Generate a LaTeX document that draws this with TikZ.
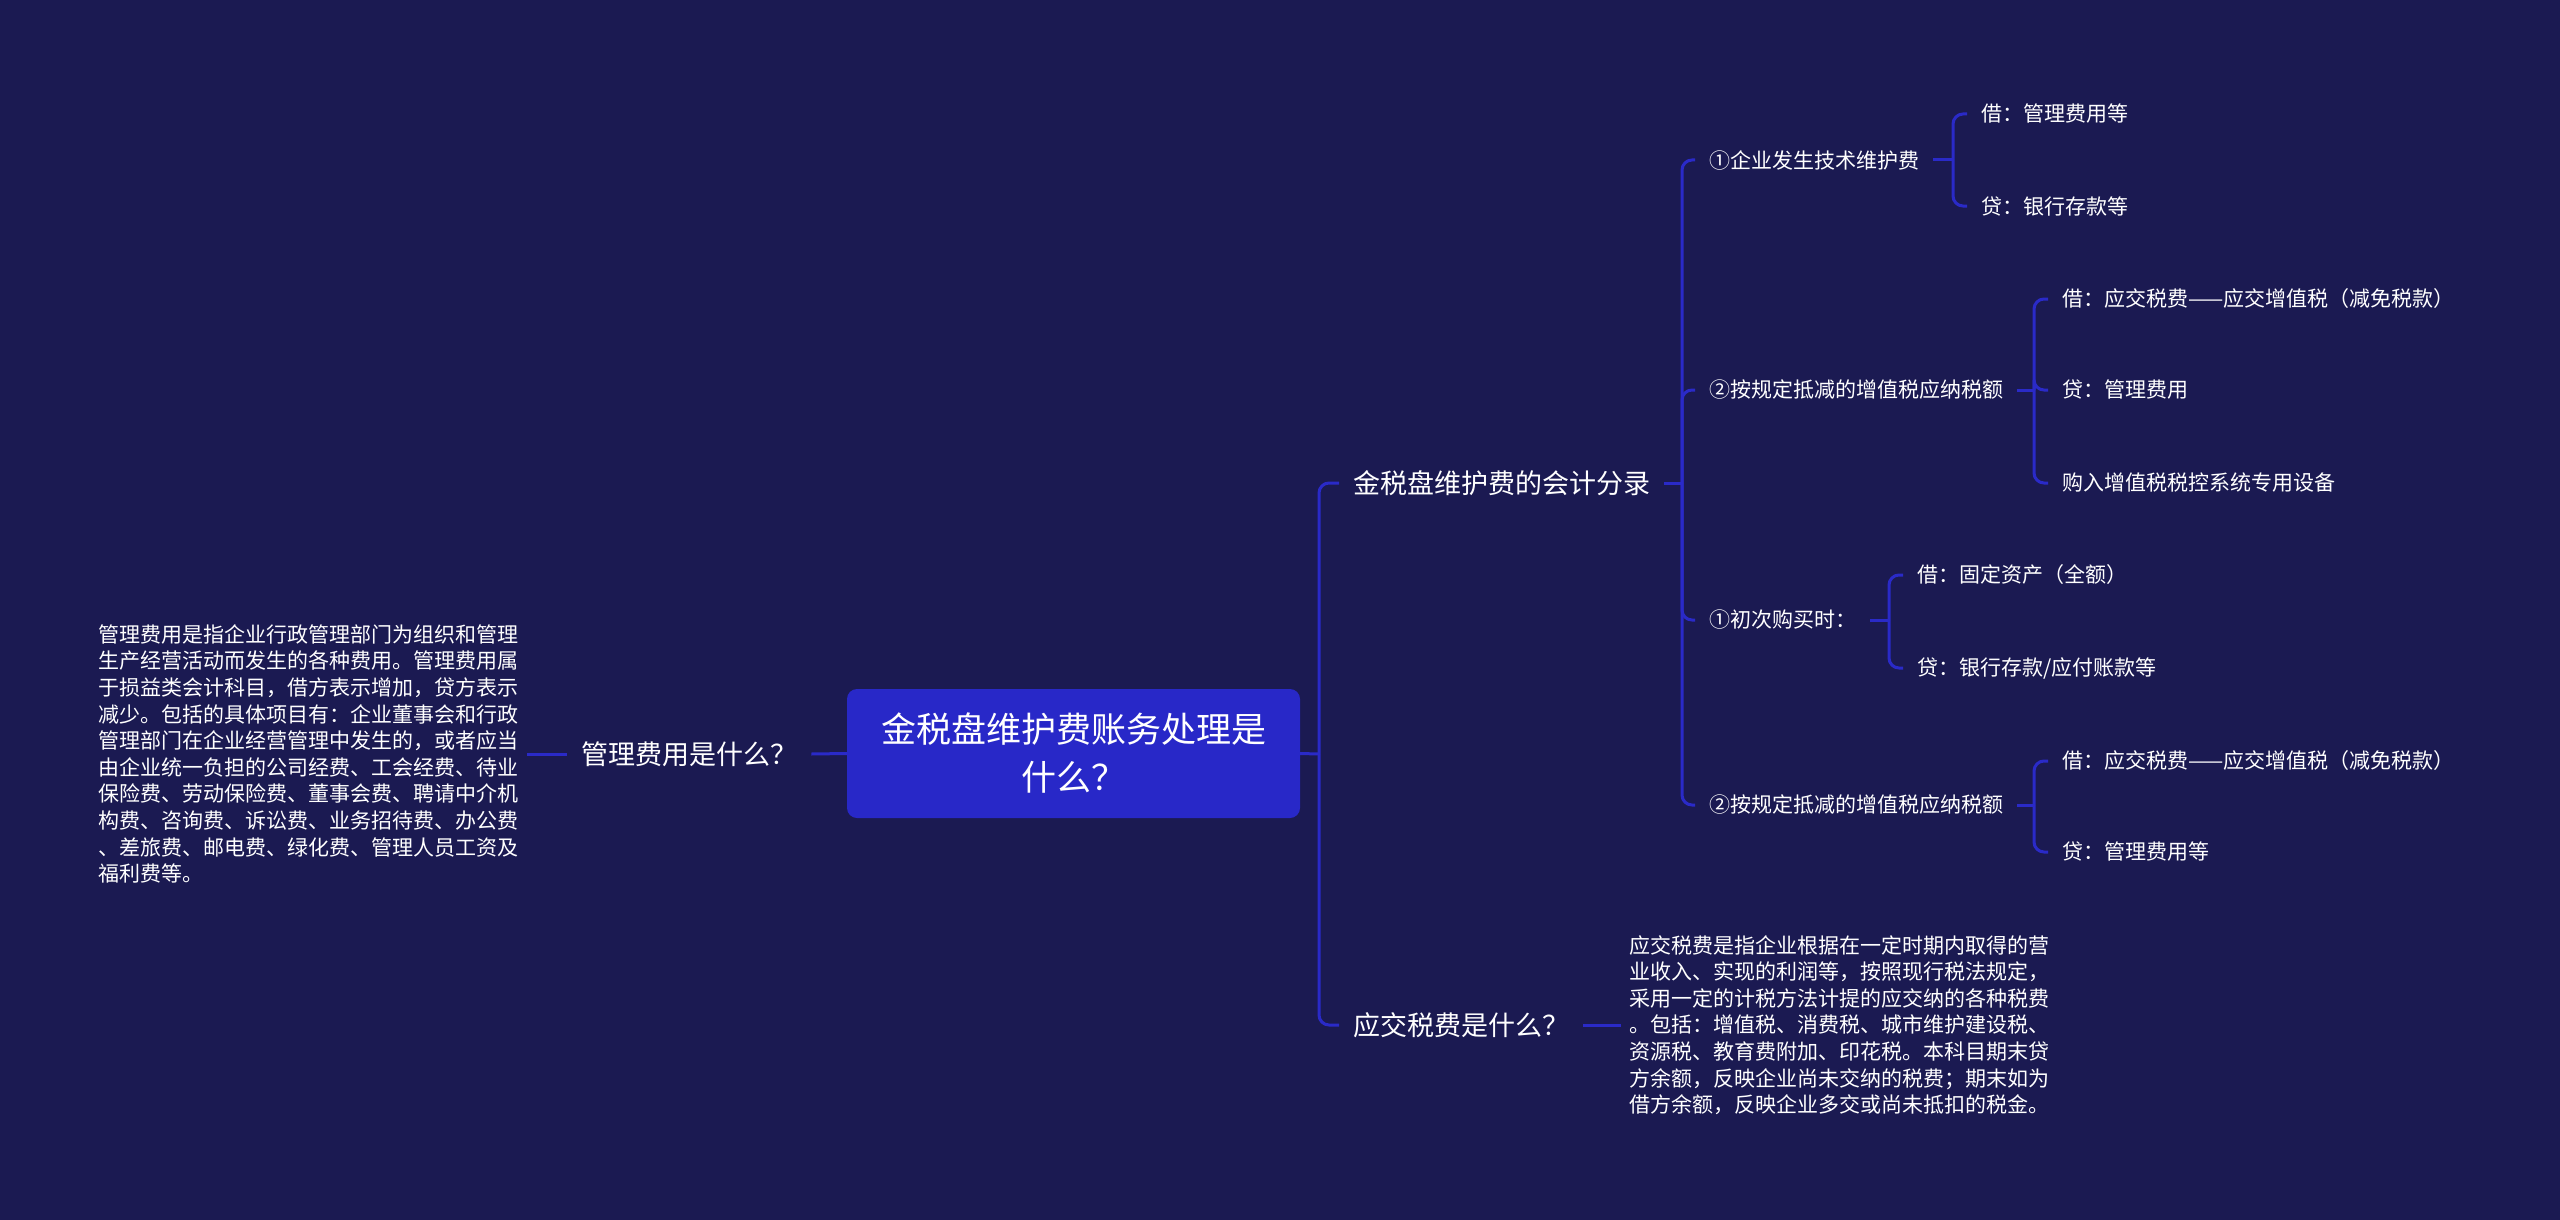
\documentclass[tikz,border=0pt]{standalone}
\usepackage{fontspec}
\setmainfont{Noto Sans CJK SC}

\definecolor{bgnavy}{RGB}{27,26,82}
\definecolor{linkblue}{RGB}{42,42,200}
\definecolor{rootblue}{RGB}{40,40,200}

\tikzset{
  link/.style={draw=linkblue, line width=3pt, rounded corners=10pt},
  rootbox/.style={fill=rootblue, rounded corners=10pt, text=white, align=center,
    minimum width=453pt, minimum height=129pt, font=\fontsize{35}{48}\selectfont},
  topic/.style={text=white, inner xsep=14pt, inner ysep=3pt, anchor=west,
    font=\fontsize{27}{32}\selectfont},
  leaf/.style={text=white, inner xsep=14pt, inner ysep=3pt, anchor=west,
    font=\fontsize{21}{25}\selectfont},
  desc/.style={text=white, inner xsep=8pt, align=left,
    font=\fontsize{21}{26.6}\selectfont}
}

\begin{document}
\begin{tikzpicture}[x=1pt, y=-1pt]
\fill [bgnavy] (0,0) rectangle (2560,1220);

% centre
\node[rootbox] (root) at (1073.5,753.5) {金税盘维护费账务处理是\\什么？};

% left side
\node[topic] (mgq) at (567,754) {管理费用是什么？};
\node[desc, anchor=east] (mgdesc) at (527,754) {管理费用是指企业行政管理部门为组织和管理\\
生产经营活动而发生的各种费用。管理费用属\\
于损益类会计科目，借方表示增加，贷方表示\\
减少。包括的具体项目有：企业董事会和行政\\
管理部门在企业经营管理中发生的，或者应当\\
由企业统一负担的公司经费、工会经费、待业\\
保险费、劳动保险费、董事会费、聘请中介机\\
构费、咨询费、诉讼费、业务招待费、办公费\\
、差旅费、邮电费、绿化费、管理人员工资及\\
福利费等。};
\draw [link] (root.west) -- (mgq.east);
\draw [link] (mgq.west) -- (mgdesc.east);

% right side
\node[topic] (entry) at (1339,483) {金税盘维护费的会计分录};
\node[topic] (taxq) at (1339,1025) {应交税费是什么？};
\node[desc, anchor=west] (taxdesc) at (1621,1025) {应交税费是指企业根据在一定时期内取得的营\\
业收入、实现的利润等，按照现行税法规定，\\
采用一定的计税方法计提的应交纳的各种税费\\
。包括：增值税、消费税、城市维护建设税、\\
资源税、教育费附加、印花税。本科目期末贷\\
方余额，反映企业尚未交纳的税费；期末如为\\
借方余额，反映企业多交或尚未抵扣的税金。};

\coordinate (jroot) at (1319,754);
\draw [link] (root.east) -- (jroot);
\foreach \kid in {entry,taxq}
  \draw [link] (jroot) |- (\kid.west);
\draw [link] (taxq.east) -- (taxdesc.west);

% accounting entries
\node[leaf] (s1) at (1695,160) {①企业发生技术维护费};
\node[leaf] (s2) at (1695,390) {②按规定抵减的增值税应纳税额};
\node[leaf] (s3) at (1695,620) {①初次购买时：};
\node[leaf] (s4) at (1695,805) {②按规定抵减的增值税应纳税额};

\coordinate (jentry) at (1682,483);
\draw [link] (entry.east) -- (jentry);
\foreach \kid in {s1,s2,s3,s4}
  \draw [link] (jentry) |- (\kid.west);

\node[leaf] (s1a) at (1967,114) {借：管理费用等};
\node[leaf] (s1b) at (1967,206) {贷：银行存款等};

\node[leaf] (s2a) at (2048,299) {借：应交税费——应交增值税（减免税款）};
\node[leaf] (s2b) at (2048,390) {贷：管理费用};
\node[leaf] (s2c) at (2048,483) {购入增值税税控系统专用设备};

\node[leaf] (s3a) at (1903,575) {借：固定资产（全额）};
\node[leaf] (s3b) at (1903,668) {贷：银行存款/应付账款等};

\node[leaf] (s4a) at (2048,761) {借：应交税费——应交增值税（减免税款）};
\node[leaf] (s4b) at (2048,852) {贷：管理费用等};

\coordinate (js1) at (1953,160);
\coordinate (js2) at (2034,390);
\coordinate (js3) at (1889,620);
\coordinate (js4) at (2034,805);
\foreach \p in {1,2,3,4}
  \draw [link] (s\p.east) -- (js\p);
\foreach \kid in {s1a,s1b}
  \draw [link] (js1) |- (\kid.west);
\foreach \kid in {s2a,s2b,s2c}
  \draw [link] (js2) |- (\kid.west);
\foreach \kid in {s3a,s3b}
  \draw [link] (js3) |- (\kid.west);
\foreach \kid in {s4a,s4b}
  \draw [link] (js4) |- (\kid.west);

\end{tikzpicture}
\end{document}
